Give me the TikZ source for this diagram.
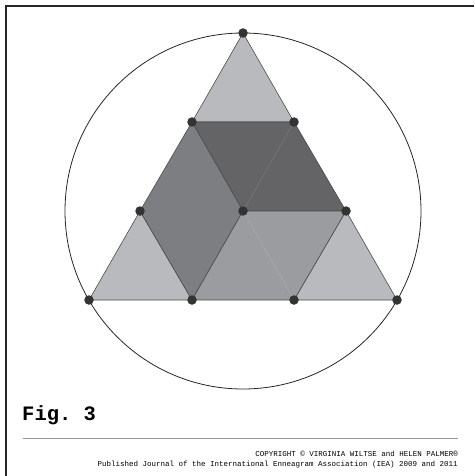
\documentclass[tikz,border=0pt]{standalone}
\usepackage{fontspec}
\setmonofont{Liberation Mono}
\usetikzlibrary{calc}
\definecolor{tileLight}{RGB}{185,186,190}
\definecolor{tileTop}{RGB}{100,100,103}
\definecolor{tileLeft}{RGB}{125,126,130}
\definecolor{tileLow}{RGB}{155,156,160}
\tikzset{fig3/.style={
  frame/.style={line width=2pt, draw=black!85},
  ring/.style={line width=0.8pt, draw=black!85},
  tile/.style={draw=black!70, line width=0.6pt, line join=round},
  seam/.style={line width=0.5pt},
  dot/.style={circle, fill=black!80, draw=none, minimum size=9.5pt, inner sep=0pt},
  rule/.style={line width=0.8pt, draw=black!40},
  credit/.style={anchor=base east, font=\ttfamily\fontsize{7.5}{9}\selectfont},
}}
\begin{document}
\begin{tikzpicture}[x=1pt,y=-1pt,fig3]
\useasboundingbox (0,0) rectangle (474,476);
% ---- page frame ----
\draw[frame] (5,6) -- (474,6);
\draw[frame] (6,5) -- (6,476);

% ---- triangle corners and third points ----
\coordinate (O)  at (243,211);
\coordinate (A)  at (243,33);
\coordinate (B)  at (89,300);
\coordinate (C)  at (397,300);
\coordinate (AB1) at (192,122);
\coordinate (AB2) at (140,211);
\coordinate (AC1) at (294,122);
\coordinate (AC2) at (346,211);
\coordinate (BC1) at (192,300);
\coordinate (BC2) at (294,300);

% ---- circle ----
\draw[ring] (O) circle (178pt);

% ---- corner triangles ----
\filldraw[tile, fill=tileLight] (A) -- (AB1) -- (AC1) -- cycle;
\filldraw[tile, fill=tileLight] (B) -- (AB2) -- (BC1) -- cycle;
\filldraw[tile, fill=tileLight] (C) -- (BC2) -- (AC2) -- cycle;

% ---- three rhombi ----
\filldraw[tile, fill=tileTop]  (AB1) -- (AC1) -- (AC2) -- (O) -- cycle;
\filldraw[tile, fill=tileLeft] (AB1) -- (O) -- (BC1) -- (AB2) -- cycle;
\filldraw[tile, fill=tileLow]  (O) -- (AC2) -- (BC2) -- (BC1) -- cycle;
\draw[seam, tileTop!85!white] (AC1) -- (O);
\draw[seam, tileLow!85!white] (O) -- (BC2);

% ---- dots ----
\foreach \p in {A,B,C,O,AB1,AB2,AC1,AC2,BC1,BC2}{
  \node[dot] (d\p) at (\p) {};
}

% ---- caption ----
\node[anchor=base west, inner sep=0pt, font=\ttfamily\bfseries\fontsize{20.5}{23}\selectfont] (figlab) at (22,420) {Fig. 3};
\draw[rule] (23,438) -- (458,438);
\node[credit, inner sep=0pt] (copy) at (458,456) {COPYRIGHT © VIRGINIA WILTSE and HELEN PALMER®};
\node[credit, inner sep=0pt] (pub)  at (458,466.5) {Published Journal of the International Enneagram Association (IEA) 2009 and 2011};
\end{tikzpicture}
\end{document}
